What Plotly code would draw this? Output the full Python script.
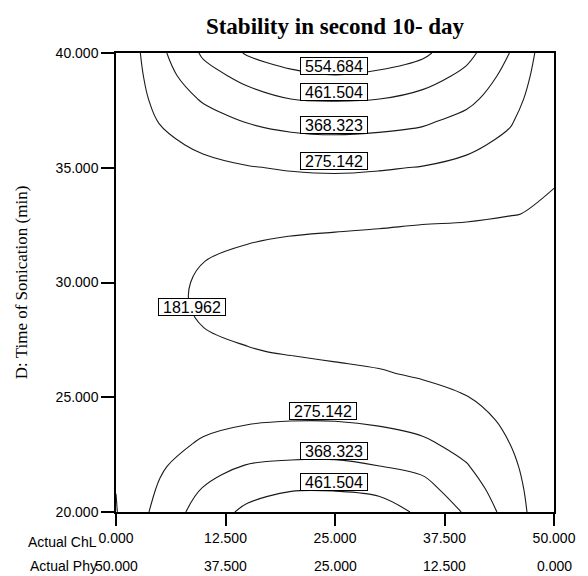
import numpy as np
import plotly.graph_objects as go

# ---- data -------------------------------------------------------------
# Actual ChL (x) grid and D: Time of Sonication (y) grid
chl = [0, 5, 10, 15, 20, 25, 30, 35, 40, 45, 50]
time_min = [20, 21, 22, 23, 24, 25, 26, 27, 28, 29, 30,
            31, 32, 33, 34, 35, 36, 37, 38, 39, 40]

# Stability response, one column per ChL value (rows: time 20..40)
z_chl_00 = [178, 183, 187.5, 191.5, 195, 198, 200.5, 202, 203, 203.5, 203.5, 203, 202, 200.5, 199, 197, 195, 192.5, 190, 187, 184]
z_chl_05 = [307, 284.6, 264.0, 246.0, 230.8, 218.2, 207, 200, 195, 192.5, 193, 197, 204, 215.0, 226.7, 241.2, 258.3, 278.1, 305, 328, 348]
z_chl_10 = [410, 373.7, 329.6, 284.1, 253.7, 228.0, 207.4, 192.1, 182.2, 177.0, 177.3, 182.7, 193.4, 209.3, 230.3, 256.6, 288.0, 330, 378.4, 428.8, 475]
z_chl_15 = [482, 428, 374, 308.3, 267.1, 232.8, 205.4, 185.0, 171.5, 164.9, 165.2, 172.5, 186.7, 207.8, 235.9, 270.9, 315, 372, 428, 488, 564]
z_chl_20 = [518.7, 455, 385, 322, 273.5, 233.7, 201.4, 177.6, 162.0, 154.6, 155.3, 164.2, 181.3, 206.5, 240.0, 281.5, 336, 395, 462, 529.7, 614]
z_chl_25 = [527, 455, 385.4, 324.6, 272.8, 229.8, 195.7, 170.4, 153.9, 146.3, 147.5, 157.6, 176.5, 204.3, 241.0, 286.5, 340.8, 404.1, 468, 551, 632]
z_chl_30 = [501.4, 443, 369, 312.3, 262.3, 220.8, 188.0, 163.8, 148.3, 141.4, 143.1, 153.5, 172.5, 200.1, 236.4, 281.3, 334.8, 396.9, 462.5, 533, 617.7]
z_chl_35 = [445.4, 397, 348, 290, 241, 204.1, 175.2, 154.1, 141.0, 135.9, 138.7, 149.4, 168.0, 194.6, 229.1, 271.6, 322.0, 380.4, 432, 505, 572]
z_chl_40 = [358, 320, 281, 243.3, 210.4, 183.6, 163.0, 148.5, 140.1, 137.9, 141.7, 151.7, 167.8, 190.0, 218.4, 252.8, 293.4, 340.1, 392.9, 438, 490]
z_chl_45 = [239, 216.6, 197.3, 181.0, 167.6, 157.3, 150.0, 145.7, 144.4, 146.1, 150.9, 158.6, 169.4, 183.3, 205, 229, 254, 282, 310, 338, 366]
z_chl_50 = [90, 105, 116, 125, 132.5, 139, 145, 150.5, 156, 161, 165.5, 170, 174, 178, 181.5, 186, 189.6, 193.2, 196.8, 200.4, 204]

levels = [181.962, 275.142, 368.323, 461.504, 554.684]
level_labels = ["181.962", "275.142", "368.323", "461.504", "554.684"]

x_ticks = [0, 12.5, 25, 37.5, 50]
chl_labels = ["0.000", "12.500", "25.000", "37.500", "50.000"]
phy_labels = ["50.000", "37.500", "25.000", "12.500", "0.000"]
y_ticks = [20, 25, 30, 35, 40]
y_labels = ["20.000", "25.000", "30.000", "35.000", "40.000"]

# ---- figure -----------------------------------------------------------
Z = np.array([z_chl_00, z_chl_05, z_chl_10, z_chl_15, z_chl_20, z_chl_25,
              z_chl_30, z_chl_35, z_chl_40, z_chl_45, z_chl_50]).T

SANS = "Liberation Sans, Arial, sans-serif"
SERIF = "Liberation Serif, Times New Roman, serif"

fig = go.Figure()
fig.add_trace(go.Contour(
    x=chl, y=time_min, z=Z,
    contours=dict(start=levels[0], end=levels[-1] + 1e-3,
                  size=(levels[-1] - levels[0]) / (len(levels) - 1),
                  coloring="lines", showlabels=False),
    line=dict(width=1.1, smoothing=1.0),
    colorscale=[[0, "#1a1a1a"], [1, "#1a1a1a"]],
    showscale=False, hoverinfo="skip",
))

# boxed contour labels (placement as in the reference)
label_pos = [
    (level_labels[4], 24.89, 39.43),
    (level_labels[3], 24.89, 38.28),
    (level_labels[2], 24.89, 36.86),
    (level_labels[1], 24.89, 35.29),
    (level_labels[0], 8.68, 28.95),
    (level_labels[1], 23.62, 24.38),
    (level_labels[2], 24.89, 22.66),
    (level_labels[3], 24.83, 21.31),
]
annotations = []
for txt, lx, ly in label_pos:
    annotations.append(dict(
        x=lx, y=ly, xref="x", yref="y", text=txt, showarrow=False,
        font=dict(family=SANS, size=16, color="black"),
        bgcolor="white", bordercolor="black", borderwidth=1, borderpad=0,
        width=66, height=16, xanchor="center", yanchor="middle"))

# second row of x tick labels (Actual Phy)
for xv, t in zip(x_ticks, phy_labels):
    annotations.append(dict(
        x=xv, y=0, xref="x", yref="paper", yshift=-54, text=t, showarrow=False,
        font=dict(family=SANS, size=14, color="black"),
        xanchor="center", yanchor="middle"))

annotations.append(dict(x=0, y=0, xref="paper", yref="paper", xshift=-17, yshift=-30,
                        text="Actual ChL", showarrow=False,
                        font=dict(family=SANS, size=14, color="black"),
                        xanchor="right", yanchor="middle"))
annotations.append(dict(x=0, y=0, xref="paper", yref="paper", xshift=-17, yshift=-54,
                        text="Actual Phy", showarrow=False,
                        font=dict(family=SANS, size=14, color="black"),
                        xanchor="right", yanchor="middle"))

# the page body adds an 8px offset, so the figure is 8px smaller than the window
fig.update_layout(
    width=580, height=568,
    margin=dict(l=106, r=22, t=45, b=64),
    paper_bgcolor="white", plot_bgcolor="white",
    showlegend=False,
    title=dict(text="<b>Stability in second 10- day</b>",
               font=dict(family=SERIF, size=23, color="black"),
               x=0.5, xref="paper", xanchor="center",
               y=1 - 18 / 568, yref="container", yanchor="middle"),
    xaxis=dict(range=[0, 50], tickvals=x_ticks, ticktext=chl_labels,
               ticks="outside", ticklen=12, tickwidth=1.5, tickcolor="black",
               showline=True, linecolor="black", linewidth=1.5, mirror=True,
               showgrid=False, zeroline=False,
               tickfont=dict(family=SANS, size=14, color="black")),
    yaxis=dict(range=[20, 40], tickvals=y_ticks, ticktext=y_labels,
               ticks="outside", ticklen=13, tickwidth=1.5, tickcolor="black",
               showline=True, linecolor="black", linewidth=1.5, mirror=True,
               showgrid=False, zeroline=False,
               tickfont=dict(family=SANS, size=14, color="black"),
               title=dict(text="D: Time of Sonication (min)", standoff=24,
                          font=dict(family=SERIF, size=17, color="black"))),
    annotations=annotations,
)

fig.write_html("out.html")
